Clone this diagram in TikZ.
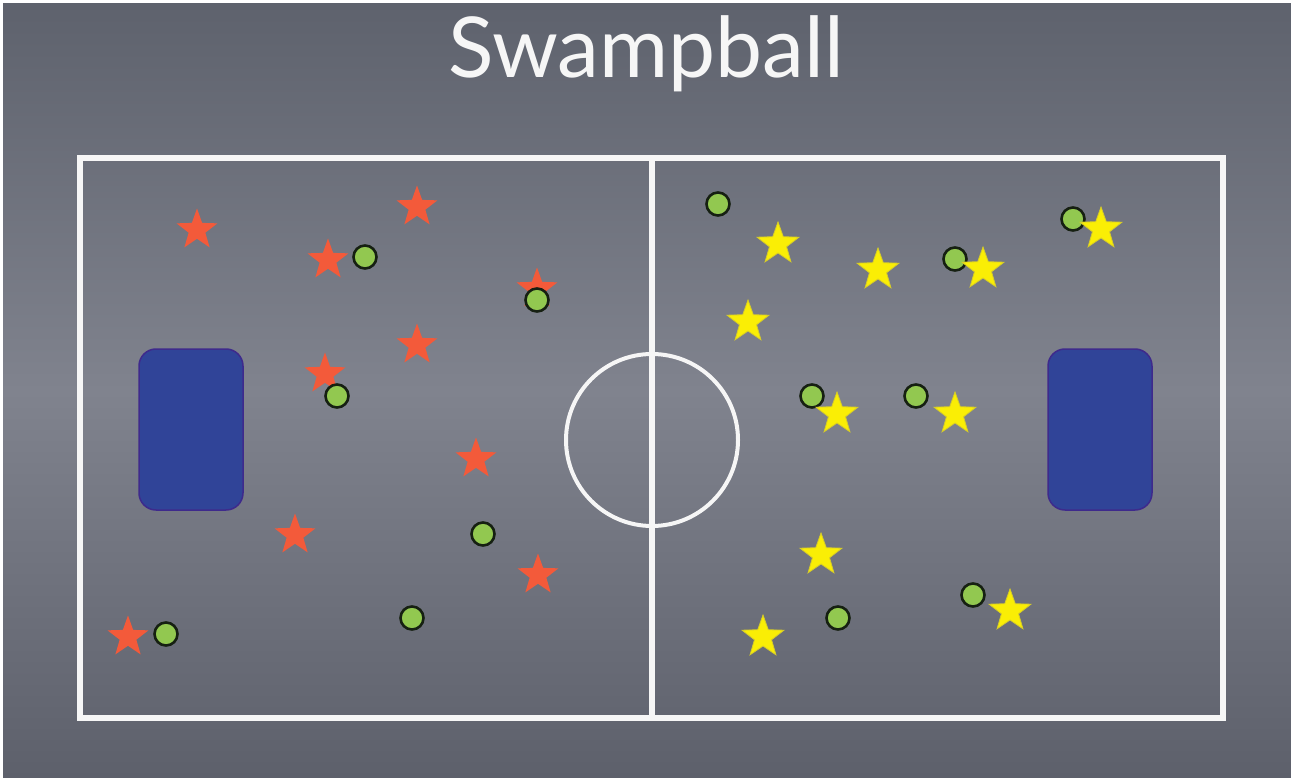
\documentclass[tikz,border=0pt]{standalone}
\usepackage{fontspec}
\setmainfont{Lato}
\usepackage{xcolor}
\usepackage{tikz}
\usetikzlibrary{shapes.geometric,positioning}
\definecolor{boardtop}{RGB}{94,98,109}
\definecolor{boardmid}{RGB}{128,131,142}
\definecolor{boardbot}{RGB}{93,96,107}
\definecolor{chalk}{RGB}{246,246,246}
\definecolor{goalblue}{RGB}{48,68,152}
\definecolor{goalrim}{RGB}{62,42,140}
\definecolor{teamred}{RGB}{243,90,58}
\definecolor{teamyellow}{RGB}{250,238,5}
\definecolor{yellowrim}{RGB}{214,204,40}
\definecolor{ballgreen}{RGB}{146,200,80}
\definecolor{ballrim}{RGB}{22,32,18}
\tikzset{
  fieldline/.style={draw=chalk, line width=6pt},
  ringline/.style={draw=chalk, line width=4pt},
  goal/.style={draw=goalrim, fill=goalblue, line width=1.5pt, rounded corners=17pt},
  redstar/.style={star, star points=5, star point ratio=2.45, minimum size=43pt,
                  inner sep=0pt, fill=teamred},
  yellowstar/.style={star, star points=5, star point ratio=2.45, minimum size=44pt,
                     inner sep=0pt, fill=teamyellow, draw=yellowrim, line width=0.8pt},
  ball/.style={circle, minimum size=23pt, inner sep=0pt, fill=ballgreen,
               draw=ballrim, line width=2.6pt},
}

\begin{document}
\begin{tikzpicture}[x=1pt, y=-1pt]

    % chalkboard
    \useasboundingbox (0,0) rectangle (1291,778);
    \fill[white] (0,0) rectangle (1291,778);
    \shade[top color=boardtop, bottom color=boardbot, middle color=boardmid]
          (3,4) rectangle (1291,778);

    % title
    \node[anchor=base, inner sep=0pt, text=chalk, font=\fontsize{84}{90}\selectfont]
          (title) at (646,78) {Swampball};

    % court lines
    \draw[fieldline] (80,158) rectangle (1223,718);
    \draw[fieldline] (652,158) -- (652,718);
    \draw[ringline] (652,440) circle[radius=86];

    % goals
    \draw[goal] (139,349) rectangle (243,510);
    \draw[goal] (1048,349) rectangle (1152,510);

    % red team
    \node[redstar] (r1) at (197,230) {};
    \node[redstar] (r2) at (417,207) {};
    \node[redstar] (r3) at (328,260) {};
    \node[redstar] (r4) at (537,289) {};
    \node[redstar] (r5) at (417,345) {};
    \node[redstar] (r6) at (325,374) {};
    \node[redstar] (r7) at (476,459) {};
    \node[redstar] (r8) at (295,535) {};
    \node[redstar] (r9) at (538,575) {};
    \node[redstar] (r10) at (128,637) {};

    % swamp balls
    \node[ball] (b1) at (365,257) {};
    \node[ball] (b2) at (537,300) {};
    \node[ball] (b3) at (337,396) {};
    \node[ball] (b4) at (483,534) {};
    \node[ball] (b5) at (412,618) {};
    \node[ball] (b6) at (166,634) {};
    \node[ball] (b7) at (718,204) {};
    \node[ball] (b8) at (1073,219) {};
    \node[ball] (b9) at (955,259) {};
    \node[ball] (b10) at (812,396) {};
    \node[ball] (b11) at (916,396) {};
    \node[ball] (b12) at (838,618) {};
    \node[ball] (b13) at (973,595) {};

    % yellow team
    \node[yellowstar] (y1) at (778,244) {};
    \node[yellowstar] (y2) at (878,270) {};
    \node[yellowstar] (y3) at (983,269) {};
    \node[yellowstar] (y4) at (1101,229) {};
    \node[yellowstar] (y5) at (748,322) {};
    \node[yellowstar] (y6) at (837,414) {};
    \node[yellowstar] (y7) at (955,414) {};
    \node[yellowstar] (y8) at (821,555) {};
    \node[yellowstar] (y9) at (763,637) {};
    \node[yellowstar] (y10) at (1010,611) {};

\end{tikzpicture}
\end{document}
